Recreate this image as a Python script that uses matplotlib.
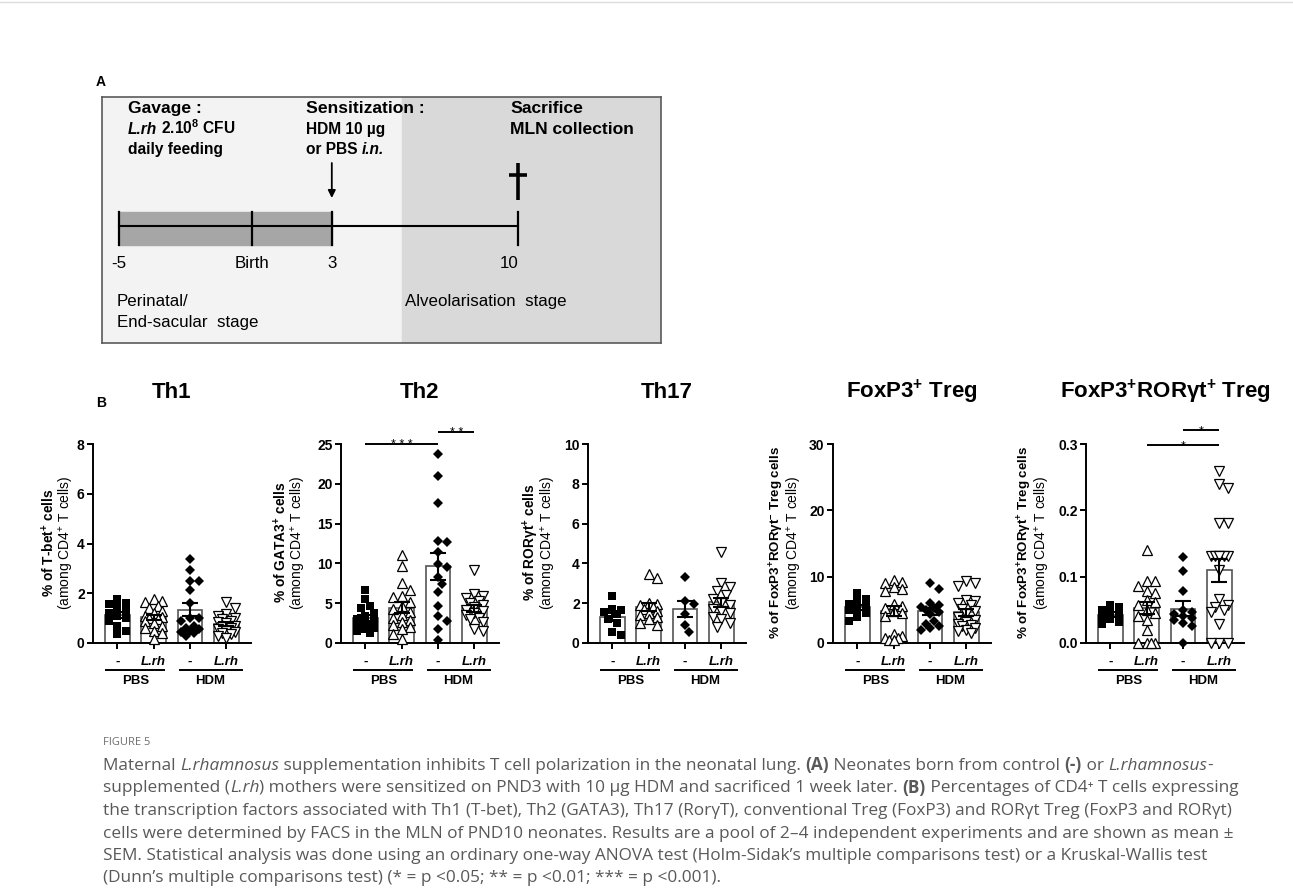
import matplotlib
matplotlib.use('Agg')
import matplotlib.pyplot as plt
import numpy as np
from matplotlib.patches import Rectangle
from matplotlib.lines import Line2D
from matplotlib.transforms import IdentityTransform, ScaledTranslation

W, H, DPI = 1293, 891, 100
plt.rcParams['font.family'] = ['Liberation Sans', 'DejaVu Sans']
plt.rcParams['mathtext.fontset'] = 'custom'
plt.rcParams['mathtext.rm'] = 'Liberation Sans'
plt.rcParams['mathtext.it'] = 'Liberation Sans:italic'
plt.rcParams['mathtext.bf'] = 'Liberation Sans:bold'

# ---------------- data ----------------
group_labels = ['-', 'L.rh', '-', 'L.rh']
treatments = ['PBS', 'HDM']

th1_pbs_ctrl = [1.75, 1.6, 1.55, 1.45, 1.3, 1.2, 1.1, 1.0, 0.9, 0.7, 0.5, 0.35]
th1_pbs_lrh = [1.75, 1.7, 1.65, 1.5, 1.4, 1.3, 1.2, 1.1, 1.05, 1.0, 0.95, 0.9, 0.8, 0.7, 0.6, 0.5, 0.4, 0.15]
th1_hdm_ctrl = [3.38, 2.95, 2.5, 2.5, 2.15, 1.6, 1.0, 1.0, 0.9, 0.7, 0.6, 0.55, 0.5, 0.45, 0.4, 0.3]
th1_hdm_lrh = [1.65, 1.4, 1.15, 1.1, 1.0, 0.95, 0.9, 0.85, 0.8, 0.7, 0.65, 0.6, 0.55, 0.5, 0.45, 0.4, 0.35, 0.3, 0.2]

th2_pbs_ctrl = [6.7, 5.5, 4.6, 4.4, 3.8, 3.4, 3.0, 2.8, 2.6, 2.4, 2.2, 2.0, 1.9, 1.7, 1.5, 1.3]
th2_pbs_lrh = [11.1, 9.7, 7.5, 6.7, 5.9, 5.8, 5.1, 4.7, 4.3, 3.9, 3.5, 3.2, 2.9, 2.6, 2.3, 2.0, 1.7, 1.1, 0.5]
th2_hdm_ctrl = [23.8, 21.0, 17.6, 12.7, 12.8, 11.4, 9.95, 9.6, 8.3, 7.4, 6.4, 4.7, 3.4, 2.8, 1.8, 0.4]
th2_hdm_lrh = [9.2, 6.1, 5.9, 5.6, 5.3, 5.0, 4.8, 4.5, 4.2, 4.0, 3.8, 3.5, 3.2, 3.0, 2.6, 1.8, 1.5]

th17_pbs_ctrl = [2.37, 1.72, 1.65, 1.55, 1.45, 1.2, 1.0, 0.53, 0.42]
th17_pbs_lrh = [3.26, 3.48, 2.0, 1.95, 1.9, 1.8, 1.7, 1.6, 1.5, 1.4, 1.3, 1.2, 1.0, 0.9]
th17_hdm_ctrl = [3.34, 2.1, 1.96, 1.45, 0.89, 0.55]
th17_hdm_lrh = [4.57, 3.0, 2.8, 2.6, 2.4, 2.2, 2.0, 1.9, 1.7, 1.6, 1.5, 1.3, 1.2, 1.0, 0.8]

treg_pbs_ctrl = [7.6, 6.6, 6.3, 5.9, 5.5, 5.2, 4.9, 4.5, 3.9, 3.3]
treg_pbs_lrh = [9.5, 9.2, 9.0, 8.5, 8.2, 7.8, 5.9, 5.6, 5.3, 4.8, 4.5, 4.0, 1.3, 1.0, 0.8, 0.7, 0.5, 0.4]
treg_hdm_ctrl = [9.1, 8.1, 6.0, 5.8, 5.5, 5.3, 5.0, 4.7, 4.4, 3.3, 2.9, 2.6, 2.2, 2.0]
treg_hdm_lrh = [9.3, 9.0, 8.6, 6.5, 6.4, 6.1, 5.7, 5.2, 4.8, 4.3, 3.9, 3.4, 3.1, 2.9, 2.7, 2.5, 2.3, 2.0, 1.8, 1.5]

rort_pbs_ctrl = [0.058, 0.054, 0.05, 0.046, 0.043, 0.04, 0.036, 0.031, 0.028]
rort_pbs_lrh = [0.14, 0.093, 0.093, 0.086, 0.079, 0.075, 0.065, 0.062, 0.058, 0.05, 0.045, 0.04,
                0.035, 0.02, 0.0, 0.0, 0.0, 0.0]
rort_hdm_ctrl = [0.13, 0.109, 0.079, 0.05, 0.046, 0.043, 0.04, 0.037, 0.034, 0.03, 0.026, 0.0]
rort_hdm_lrh = [0.26, 0.24, 0.233, 0.181, 0.181, 0.131, 0.131, 0.131, 0.131, 0.131, 0.131, 0.11,
                0.066, 0.058, 0.055, 0.05, 0.047, 0.029, 0.0, 0.0, 0.0]

th1_yticks = [0, 2, 4, 6, 8]
th2_yticks = [0, 5, 10, 15, 20, 25]
th17_yticks = [0, 2, 4, 6, 8, 10]
treg_yticks = [0, 10, 20, 30]
rort_yticks = [0.0, 0.1, 0.2, 0.3]
rort_yticklabels = ['0.0', '0.1', '0.2', '0.3']

th2_sig = [(0, 2, 25.0, '* * *'), (2, 3, 26.5, '* *')]
rort_sig = [(1, 3, 0.298, '*'), (2, 3, 0.321, '*')]

timeline_days = [-5, 0, 3, 10]
timeline_labels = ['-5', 'Birth', '3', '10']
gavage_start, gavage_end = -5, 3
sensitization_day = 3
sacrifice_day = 10

# ---------------- figure ----------------
fig = plt.figure(figsize=(W / DPI, H / DPI), dpi=DPI)
fig.patch.set_facecolor('white')
renderer = fig.canvas.get_renderer()


def fx(px):
    return px / W


def fy(py):
    return 1 - py / H


def text_width(s, **kw):
    t1 = fig.text(0, 0, '|' + s + '|', **kw)
    t2 = fig.text(0, 0, '||', **kw)
    w = t1.get_window_extent(renderer).width - t2.get_window_extent(renderer).width
    t1.remove()
    t2.remove()
    return w


def rich(xd, yd, segs, size, color='black', va='baseline', family=None):
    x = xd
    for s, wt, st in segs:
        kw = dict(fontsize=size, fontweight=wt, fontstyle=st, color=color)
        if family is not None:
            kw['family'] = family
        fig.text(x, yd, s, transform=IdentityTransform(), ha='left', va=va, **kw)
        x += text_width(s, **kw)
    return x


fig.add_artist(Line2D([0, 1], [fy(1.5), fy(1.5)], color='#dcdcdc', lw=1.0))

# ---------------- Panel A ----------------
BOX_L, BOX_T, BOX_R, BOX_B = 102, 97, 661, 343
axA = fig.add_axes([fx(BOX_L), fy(BOX_B), fx(BOX_R - BOX_L), (BOX_B - BOX_T) / H])
day_px, birth_px = 26.6, 252
xmin = (BOX_L - birth_px) / day_px
xmax = (BOX_R - birth_px) / day_px
stage_boundary = (402 - birth_px) / day_px
axA.set_xlim(xmin, xmax)
axA.set_ylim(BOX_B - BOX_T, 0)
axA.set_xticks([])
axA.set_yticks([])
for s in axA.spines.values():
    s.set_color('#5a5a5a')
    s.set_linewidth(1.2)
axA.add_patch(Rectangle((xmin, 0), stage_boundary - xmin, 300, color='#f3f3f3', zorder=0))
axA.add_patch(Rectangle((stage_boundary, 0), xmax - stage_boundary, 300, color='#d9d9d9', zorder=0))
axA.add_patch(Rectangle((gavage_start, 115), gavage_end - gavage_start, 33, color='#a6a6a6', zorder=1))
axA.plot([timeline_days[0], timeline_days[-1]], [129, 129], color='black', lw=1.5, zorder=2)
for d in timeline_days:
    axA.plot([d, d], [115, 148], color='black', lw=1.6, zorder=2)
for d, lab in zip(timeline_days, timeline_labels):
    off = -0.33 if lab == '10' else 0
    axA.text(d + off, 171, lab, ha='center', va='baseline', fontsize=12.2)
axA.annotate('', xy=(sensitization_day, 101), xytext=(sensitization_day, 66),
             arrowprops=dict(arrowstyle='-|>', color='black', lw=1.3, mutation_scale=11,
                             shrinkA=0, shrinkB=0))
axA.plot([sacrifice_day, sacrifice_day], [66, 103], color='black', lw=2.6, solid_capstyle='butt')
axA.plot([sacrifice_day - 0.33, sacrifice_day + 0.33], [78, 78], color='black', lw=2.6,
         solid_capstyle='butt')

HEAD, SUB = 12.6, 11.2
xg, xs, xsac = (128 - birth_px) / day_px, (306 - birth_px) / day_px, (510 - birth_px) / day_px
axA.text(xg, 16, 'Gavage :', fontsize=HEAD, fontweight='bold', va='baseline')
axA.text(xs, 16, 'Sensitization :', fontsize=HEAD, fontweight='bold', va='baseline')
axA.text(xsac, 16, 'Sacrifice', fontsize=HEAD, fontweight='bold', va='baseline')
axA.text(xsac, 37, 'MLN collection', fontsize=HEAD, fontweight='bold', va='baseline')
axA.text(xs, 37, 'HDM 10 µg', fontsize=SUB, fontweight='bold', va='baseline')
axA.text(xg, 57, 'daily feeding', fontsize=SUB, fontweight='bold', va='baseline')
p = axA.transData.transform((xg, 37))
rich(p[0], p[1], [('L.rh', 'bold', 'italic'), (r' 2.10$^{\mathbf{8}}$ CFU', 'bold', 'normal')], SUB)
p = axA.transData.transform((xs, 57))
rich(p[0], p[1], [('or PBS ', 'bold', 'normal'), ('i.n.', 'bold', 'italic')], SUB)
xper = (116.5 - birth_px) / day_px
axA.text(xper, 209, 'Perinatal/', fontsize=12.2, va='baseline')
axA.text(xper, 230, 'End-sacular  stage', fontsize=12.2, va='baseline')
axA.text(stage_boundary + 0.13, 209, 'Alveolarisation  stage', fontsize=12.2, va='baseline')

fig.text(fx(96), fy(86), 'A', fontsize=10, fontweight='bold', va='baseline')
fig.text(fx(96), fy(407), 'B', fontsize=10, fontweight='bold', va='baseline')

# ---------------- Panel B ----------------
panels = [
    dict(title='Th1', data=[th1_pbs_ctrl, th1_pbs_lrh, th1_hdm_ctrl, th1_hdm_lrh],
         ticks=th1_yticks, tlabels=[str(t) for t in th1_yticks],
         yb=r'% of T-bet$^{\mathbf{+}}$ cells', sig=[], left=93, ob=44, orr=27, sb=9.9, sr=10),
    dict(title='Th2', data=[th2_pbs_ctrl, th2_pbs_lrh, th2_hdm_ctrl, th2_hdm_lrh],
         ticks=th2_yticks, tlabels=[str(t) for t in th2_yticks],
         yb=r'% of GATA3$^{\mathbf{+}}$ cells', sig=th2_sig, left=341, ob=60, orr=43, sb=9.9, sr=10),
    dict(title='Th17', data=[th17_pbs_ctrl, th17_pbs_lrh, th17_hdm_ctrl, th17_hdm_lrh],
         ticks=th17_yticks, tlabels=[str(t) for t in th17_yticks],
         yb=r'% of RORγt$^{\mathbf{+}}$ cells', sig=[], left=588, ob=57, orr=39, sb=9.9, sr=10),
    dict(title=r'FoxP3$^{\mathbf{+}}$ Treg', data=[treg_pbs_ctrl, treg_pbs_lrh, treg_hdm_ctrl, treg_hdm_lrh],
         ticks=treg_yticks, tlabels=[str(t) for t in treg_yticks],
         yb=r'% of FoxP3$^{\mathbf{+}}$RORγt$^{\mathbf{-}}$ Treg cells', sig=[], left=833, ob=56, orr=38,
         sb=9.6, sr=10),
    dict(title=r'FoxP3$^{\mathbf{+}}$RORγt$^{\mathbf{+}}$ Treg',
         data=[rort_pbs_ctrl, rort_pbs_lrh, rort_hdm_ctrl, rort_hdm_lrh],
         ticks=rort_yticks, tlabels=rort_yticklabels,
         yb=r'% of FoxP3$^{\mathbf{+}}$RORγt$^{\mathbf{+}}$ Treg cells', sig=rort_sig, left=1086, ob=61,
         orr=43, sb=9.6, sr=10),
]
yr = r'(among CD4$^{\mathrm{+}}$ T cells)'

AX_TOP, AX_BOT, AX_W = 444, 643, 158
AX_H = AX_BOT - AX_TOP
XL = (-0.67, 3.68)
markers = [
    dict(marker='s', markersize=6.2, color='black', markeredgewidth=0),
    dict(marker='^', markersize=7.4, markerfacecolor='white', markeredgecolor='black', markeredgewidth=0.9),
    dict(marker='D', markersize=4.7, color='black', markeredgewidth=0),
    dict(marker='v', markersize=7.4, markerfacecolor='white', markeredgecolor='black', markeredgewidth=0.9),
]


def swarm(values, ppu, ppx, msize=8.0, maxoff=13.0):
    values = np.asarray(values, dtype=float)
    order = np.argsort(-values, kind='stable')
    step = msize * 0.55
    cands = [0.0]
    k = 1
    while k * step <= maxoff:
        cands += [k * step, -k * step]
        k += 1
    placed = []
    offs = np.zeros(len(values))
    for i in order:
        y = values[i] * ppu
        chosen, bestc, bestd = None, 0.0, -1
        for c in cands:
            d = min([np.hypot(c - px, y - py) for px, py in placed] + [1e9])
            if d >= msize:
                chosen = c
                break
            if d > bestd:
                bestd, bestc = d, c
        if chosen is None:
            chosen = bestc
        placed.append((chosen, y))
        offs[i] = chosen / ppx
    return offs


def yax(py):
    return (AX_BOT - py) / AX_H


for p in panels:
    ax = fig.add_axes([fx(p['left']), fy(AX_BOT), fx(AX_W), AX_H / H])
    ymax = p['ticks'][-1]
    ax.set_xlim(*XL)
    ax.set_ylim(0, ymax)
    ax.patch.set_alpha(0)
    for s in ['top', 'right']:
        ax.spines[s].set_visible(False)
    for s in ['left', 'bottom']:
        ax.spines[s].set_linewidth(1.4)
    ax.set_yticks(p['ticks'])
    ax.set_yticklabels(p['tlabels'], fontweight='bold', fontsize=10)
    ax.set_xticks(range(4))
    ax.set_xticklabels([])
    ax.tick_params(axis='both', direction='out', width=1.4, length=4.5, pad=1.5)
    ppu = AX_H / ymax
    ppx = AX_W / (XL[1] - XL[0])
    for i, vals in enumerate(p['data']):
        v = np.array(vals, dtype=float)
        m = v.mean()
        se = v.std(ddof=1) / np.sqrt(len(v))
        ax.bar(i, m, width=0.68, color='white', edgecolor='#555555', linewidth=1.2, zorder=1)
        offs = swarm(v, ppu, ppx)
        ax.plot(i + offs, v, linestyle='none', clip_on=False, zorder=3, **markers[i])
        ax.errorbar(i, m, yerr=se, color='black', lw=1.5, capsize=5.5, capthick=1.5, zorder=4)
    tr = ax.get_xaxis_transform()
    for i, lab in enumerate(group_labels):
        ax.text(i, yax(665), lab, transform=tr, ha='center', va='baseline', fontsize=9.5,
                fontweight='bold', fontstyle='normal' if lab == '-' else 'italic')
    for (a, b), name, cx in zip([(-0.33, 1.3), (1.7, 3.45)], treatments, [0.5, 2.55]):
        ax.plot([a, b], [yax(670)] * 2, transform=tr, color='black', lw=1.4, clip_on=False,
                solid_capstyle='butt')
        ax.text(cx, yax(684), name, transform=tr, ha='center', va='baseline', fontsize=9.5,
                fontweight='bold')
    for a, b, yv, star in p['sig']:
        ax.plot([a, b], [yv, yv], color='black', lw=1.4, clip_on=False, solid_capstyle='butt')
        ax.text((a + b) / 2, yv, star, ha='center', va='baseline', fontsize=9,
                transform=ax.transData + ScaledTranslation(0, -4 / DPI, fig.dpi_scale_trans))
    ax.text(0.5, yax(398), p['title'], transform=ax.transAxes, ha='center', va='baseline',
            fontsize=16, fontweight='bold')
    ax.text(-p['ob'] / AX_W, 0.505, p['yb'], transform=ax.transAxes, rotation=90, ha='center',
            va='center', fontsize=p['sb'], fontweight='bold')
    ax.text(-p['orr'] / AX_W, 0.505, yr, transform=ax.transAxes, rotation=90, ha='center',
            va='center', fontsize=p['sr'])

# ---------------- caption ----------------
CAP = ['Open Sans', 'DejaVu Sans']
CAPC = '#595959'
fig.text(fx(103), fy(745), 'FIGURE 5', fontsize=8, color='#6e6e6e', family=CAP, va='baseline')
n, b, it = ('normal', 'normal'), ('bold', 'normal'), ('normal', 'italic')
cap_lines = [
    [('Maternal ', n), ('L.rhamnosus', it), (' supplementation inhibits T cell polarization in the neonatal lung. ', n),
     ('(A)', b), (' Neonates born from control ', n), ('(-)', b), (' or ', n), ('L.rhamnosus', it), ('-', n)],
    [('supplemented (', n), ('L.rh', it),
     (') mothers were sensitized on PND3 with 10 µg HDM and sacrificed 1 week later. ', n), ('(B)', b),
     (' Percentages of CD4⁺ T cells expressing', n)],
    [('the transcription factors associated with Th1 (T-bet), Th2 (GATA3), Th17 (RorγT), conventional Treg '
      '(FoxP3) and RORγt Treg (FoxP3 and RORγt)', n)],
    [('cells were determined by FACS in the MLN of PND10 neonates. Results are a pool of 2–4 independent '
      'experiments and are shown as mean ±', n)],
    [('SEM. Statistical analysis was done using an ordinary one-way ANOVA test (Holm-Sidak’s multiple '
      'comparisons test) or a Kruskal-Wallis test', n)],
    [('(Dunn’s multiple comparisons test) (* = p <0.05; ** = p <0.01; *** = p <0.001).', n)],
]
cap_baselines = [770, 792.5, 815, 837.5, 860, 882.5]
for segs, yb in zip(cap_lines, cap_baselines):
    rich(103, H - yb, [(s, st[0], st[1]) for s, st in segs], 12.4, color=CAPC, family=CAP)

fig.savefig('out.png', dpi=DPI, facecolor='white')
